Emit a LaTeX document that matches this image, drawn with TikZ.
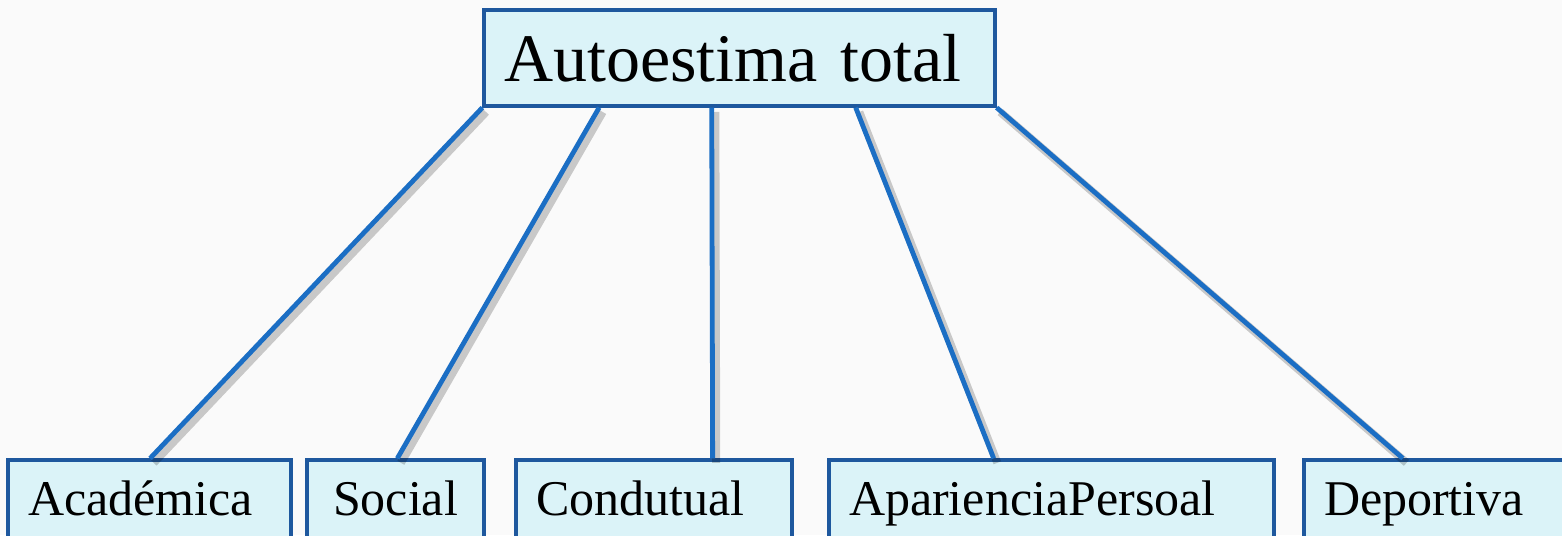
\documentclass[tikz,border=0pt]{standalone}
\usepackage{fontspec}
\setmainfont{Liberation Serif}
\usepackage{tikz}
\usetikzlibrary{calc, positioning}
\definecolor{boxblue}{RGB}{30,88,158}
\definecolor{linkblue}{RGB}{27,110,196}
\definecolor{boxfill}{RGB}{219,243,248}
\definecolor{paper}{RGB}{250,250,250}
\tikzset{
	box/.style={draw=boxblue, line width=1.6pt, fill=boxfill, align=left, inner xsep=10pt, inner ysep=0pt},
	part/.style={box, minimum height=43pt, text height=18pt, text depth=6pt, font=\fontsize{25}{30}\selectfont},
	link/.style={draw=linkblue, line width=2.4pt,
		preaction={draw=black, opacity=.2, line width=4pt, transform canvas={shift={(1.8pt,-2.2pt)}}}}
}
\begin{document}
\begin{tikzpicture}[x=0.5pt, y=-0.5pt]
				
				% Background
				\useasboundingbox (0,0) rectangle (1562,535);
				\clip (0,0) rectangle (1562,535);
				\fill[paper] (0,0) rectangle (1562,535);
				
				% Nodes
				\node[box, minimum width=255.5pt, minimum height=48pt, text width=235.5pt, font=\fontsize{34}{40}\selectfont] (total) at (739.5,58) {Autoestima total};
				\node[part, minimum width=141.5pt, text width=121.5pt] (aca) at (149.5,503) {Académica};
				\node[part, minimum width=88.5pt, text width=68.5pt, align=center] (soc) at (395.5,503) {Social};
				\node[part, minimum width=138pt, text width=118pt] (cond) at (654,503) {Condutual};
				\node[part, minimum width=222.5pt, text width=202.5pt] (apar) at (1051.5,503) {AparienciaPersoal};
				\node[part, minimum width=138pt, text width=118pt] (dep) at (1442,503) {Deportiva};
				
				% Links
				\foreach \f/\b/\g in {0/aca/.502, .227/soc/.51, .446/cond/.71, .726/apar/.371, 1/dep/.36} {
					\draw[link] ($(total.south west)!\f!(total.south east)$) -- ($(\b.north west)!\g!(\b.north east)$);
				}
			\end{tikzpicture}
\end{document}
